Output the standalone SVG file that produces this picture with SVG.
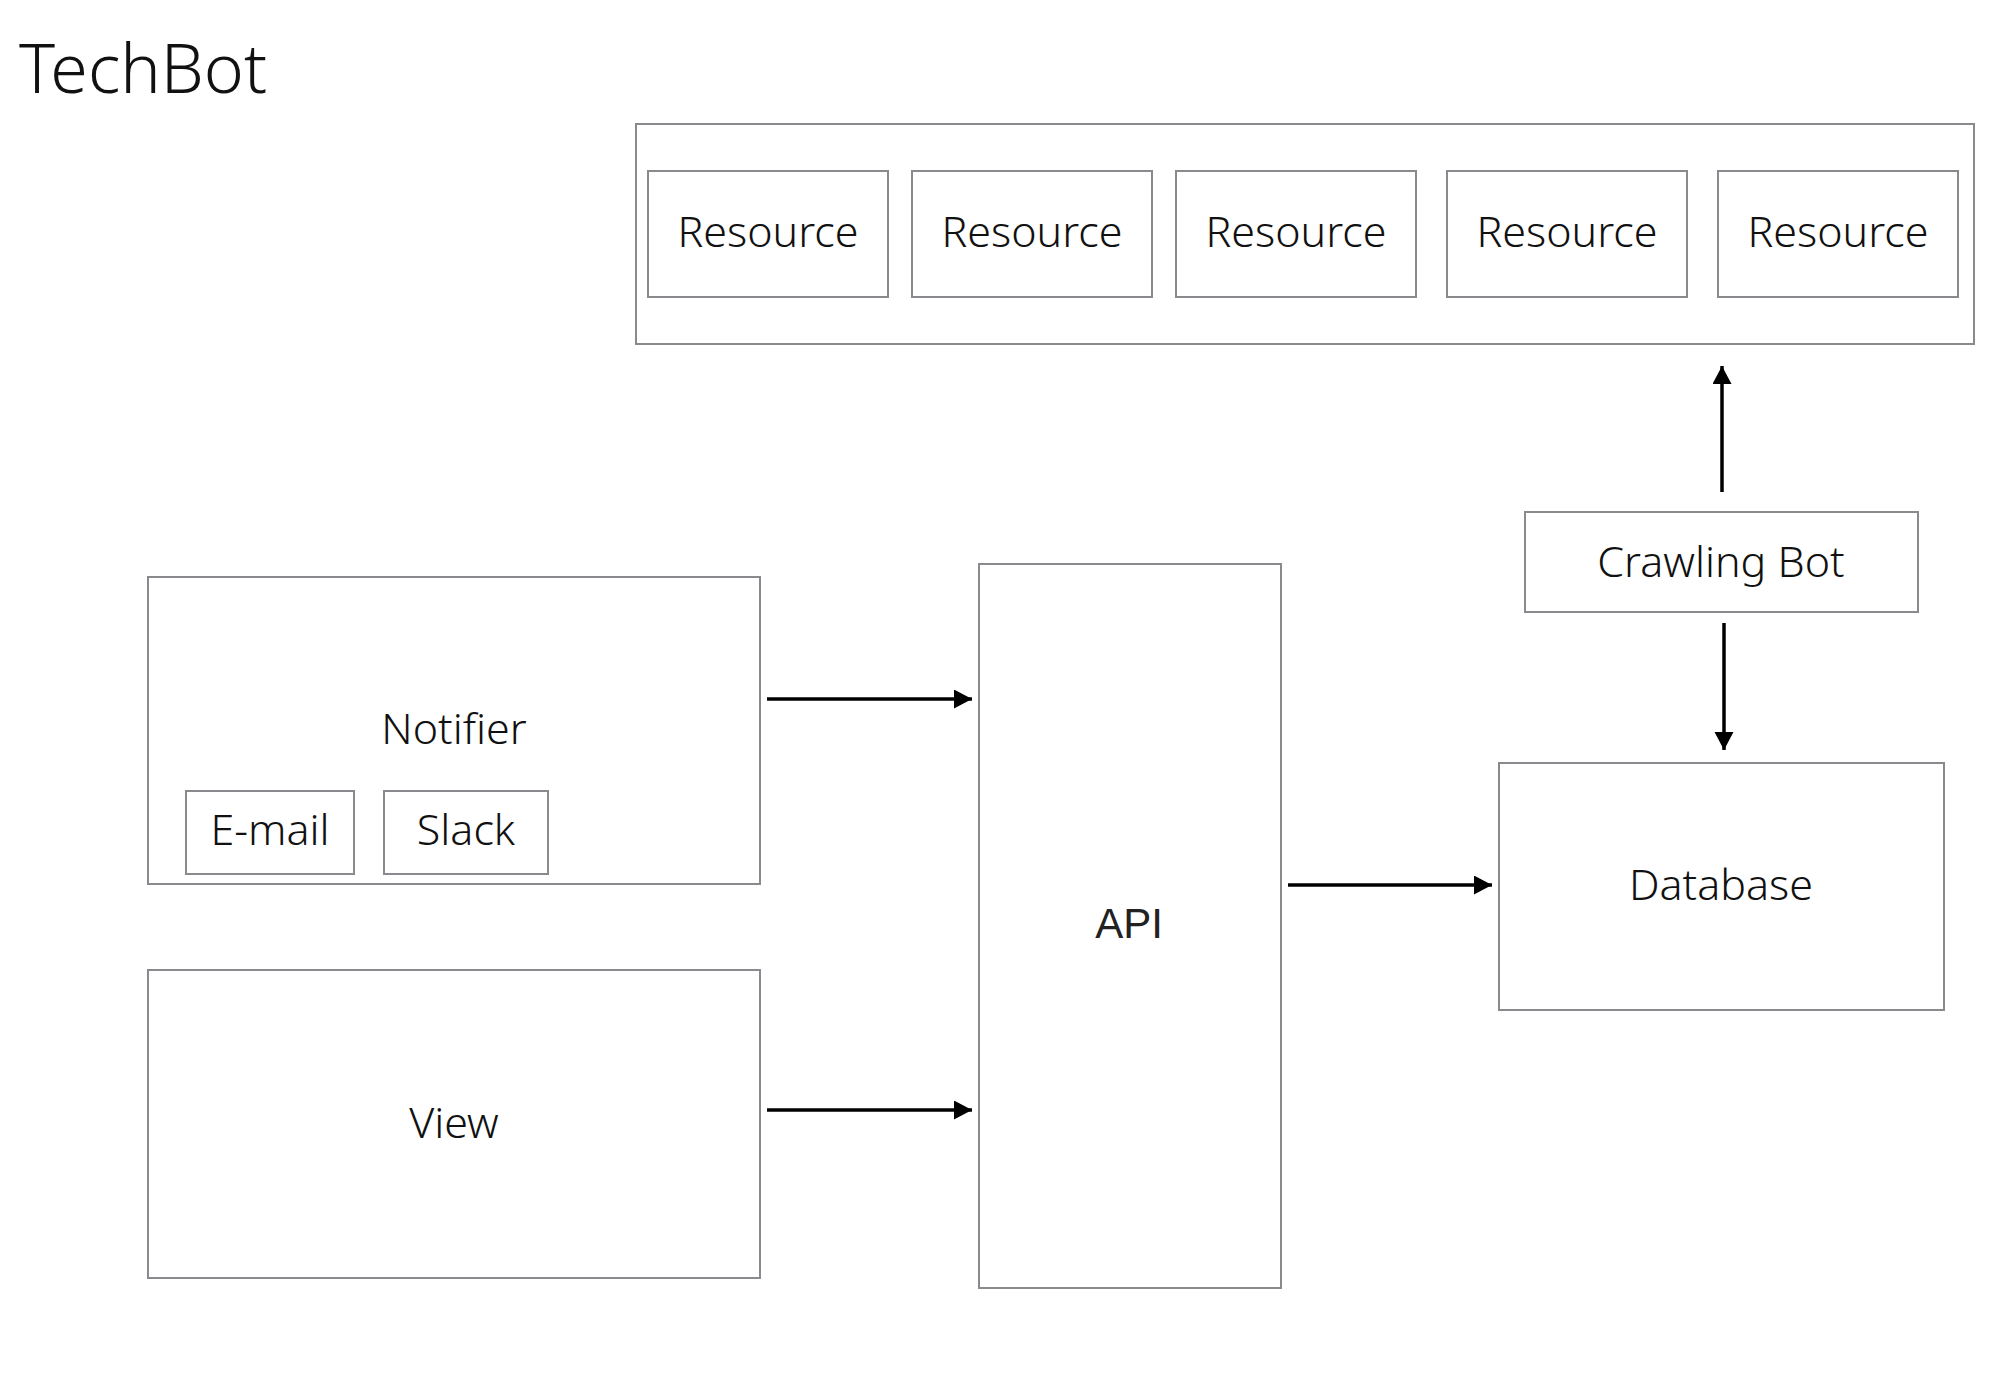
<svg xmlns="http://www.w3.org/2000/svg" width="2004" height="1390" viewBox="0 0 2004 1390">
  <style>
    .box { fill: #ffffff; stroke: #8a8a8e; stroke-width: 2; }
    .lbl { font-family: "Noto Sans", "Open Sans", sans-serif; font-size: 43px; font-weight: 300; fill: #111111; text-anchor: middle; }
    .api { font-family: "Liberation Sans", Arial, sans-serif; font-size: 42px; fill: #222222; text-anchor: middle; }
    .title { font-family: "Noto Sans", "Open Sans", sans-serif; font-size: 68px; font-weight: 300; fill: #111111; }
    .conn { stroke: #000000; stroke-width: 3.5; fill: none; marker-end: url(#arrow); }
  </style>
  <defs>
    <marker id="arrow" markerUnits="userSpaceOnUse" markerWidth="22" markerHeight="22" refX="18" refY="9.5" orient="auto">
      <path d="M0,0 L18,9.5 L0,19 Z" fill="#000000"/>
    </marker>
  </defs>
  <rect width="2004" height="1390" fill="#ffffff"/>

  <text class="title" x="19" y="93">TechBot</text>

  <g id="resources">
    <rect class="box" x="636" y="124" width="1338" height="220"/>
    <g id="resource1"><rect class="box" x="648" y="171" width="240" height="126"/><text class="lbl" x="768" y="247">Resource</text></g>
    <g id="resource2"><rect class="box" x="912" y="171" width="240" height="126"/><text class="lbl" x="1032" y="247">Resource</text></g>
    <g id="resource3"><rect class="box" x="1176" y="171" width="240" height="126"/><text class="lbl" x="1296" y="247">Resource</text></g>
    <g id="resource4"><rect class="box" x="1447" y="171" width="240" height="126"/><text class="lbl" x="1567" y="247">Resource</text></g>
    <g id="resource5"><rect class="box" x="1718" y="171" width="240" height="126"/><text class="lbl" x="1838" y="247">Resource</text></g>
  </g>

  <g id="crawling-bot">
    <rect class="box" x="1525" y="512" width="393" height="100"/>
    <text class="lbl" x="1721" y="577">Crawling Bot</text>
  </g>

  <g id="database">
    <rect class="box" x="1499" y="763" width="445" height="247"/>
    <text class="lbl" x="1721" y="900">Database</text>
  </g>

  <g id="api">
    <rect class="box" x="979" y="564" width="302" height="724"/>
    <text class="api" x="1129" y="938">API</text>
  </g>

  <g id="notifier">
    <rect class="box" x="148" y="577" width="612" height="307"/>
    <text class="lbl" x="454" y="744">Notifier</text>
    <g id="email"><rect class="box" x="186" y="791" width="168" height="83"/><text class="lbl" x="270" y="845">E-mail</text></g>
    <g id="slack"><rect class="box" x="384" y="791" width="164" height="83"/><text class="lbl" x="466" y="845">Slack</text></g>
  </g>

  <g id="view">
    <rect class="box" x="148" y="970" width="612" height="308"/>
    <text class="lbl" x="454" y="1138">View</text>
  </g>

  <g id="connectors">
    <line class="conn" x1="767" y1="699" x2="972" y2="699"/>
    <line class="conn" x1="767" y1="1110" x2="972" y2="1110"/>
    <line class="conn" x1="1288" y1="885" x2="1492" y2="885"/>
    <line class="conn" x1="1722" y1="492" x2="1722" y2="366"/>
    <line class="conn" x1="1724" y1="623" x2="1724" y2="750"/>
  </g>
</svg>
